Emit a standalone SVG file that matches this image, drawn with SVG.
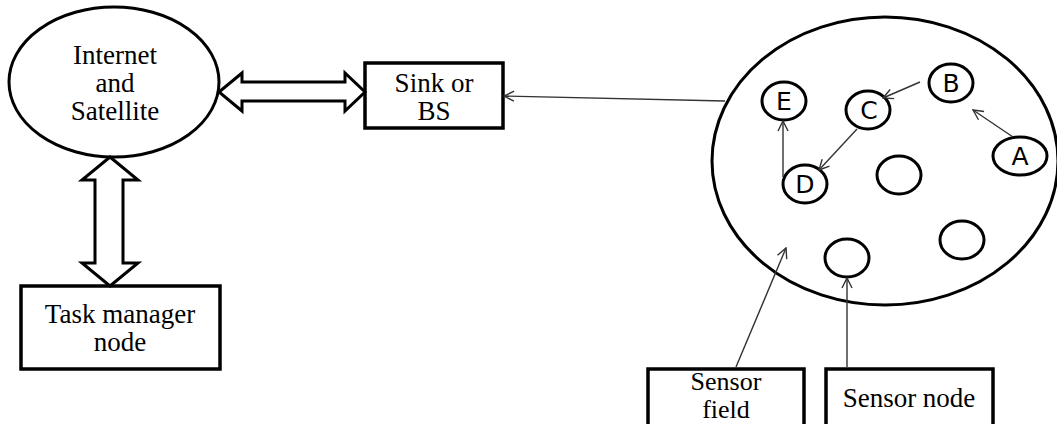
<svg xmlns="http://www.w3.org/2000/svg" width="1057" height="424" viewBox="0 0 1057 424">
<style>
.shape{fill:#fff;stroke:#000;stroke-width:3}
.box{fill:#fff;stroke:#000;stroke-width:3.5}
.serif{font-family:"Liberation Serif","Times New Roman",serif;font-size:27px;fill:#000;text-anchor:middle}
.small{font-size:26px}
.sans{font-family:"DejaVu Sans","Open Sans",sans-serif;font-size:25px;fill:#000;text-anchor:middle}
.thin{stroke:#333;stroke-width:1.4;fill:none;marker-end:url(#open)}
</style>
<defs>
<marker id="open" viewBox="0 0 12 12" refX="11" refY="6" markerWidth="12" markerHeight="12" markerUnits="userSpaceOnUse" orient="auto">
<path d="M1,1 L11,6 L1,11" fill="none" stroke="#333" stroke-width="1.4"/>
</marker>
</defs>
<rect width="1057" height="424" fill="#fff"/>
<g id="internet">
<ellipse class="shape" cx="114" cy="82" rx="105" ry="75"/>
<text class="serif" x="115" y="64">Internet</text>
<text class="serif" x="115" y="92">and</text>
<text class="serif" x="115" y="120">Satellite</text>
</g>
<g id="sink">
<rect class="box" x="365" y="63" width="138" height="65"/>
<text class="serif" x="434" y="92">Sink or</text>
<text class="serif" x="434" y="120">BS</text>
</g>
<g id="taskmanager">
<rect class="box" x="21" y="286" width="199" height="83"/>
<text class="serif" x="120" y="323">Task manager</text>
<text class="serif" x="120" y="351">node</text>
</g>
<g id="sensorfield">
<ellipse class="shape" cx="885" cy="161" rx="173" ry="144"/>
</g>
<g id="nodeE"><ellipse class="shape" cx="784" cy="101" rx="22" ry="19"/><text class="sans" x="784" y="110">E</text></g>
<g id="nodeC"><ellipse class="shape" cx="868" cy="110" rx="22" ry="19"/><text class="sans" x="869" y="119">C</text></g>
<g id="nodeB"><ellipse class="shape" cx="951" cy="83" rx="22" ry="19"/><text class="sans" x="951" y="92">B</text></g>
<g id="nodeA"><ellipse class="shape" cx="1020" cy="156" rx="27" ry="19"/><text class="sans" x="1020" y="165">A</text></g>
<g id="nodeD"><ellipse class="shape" cx="805" cy="184" rx="22" ry="19"/><text class="sans" x="805" y="193">D</text></g>
<g id="node1"><ellipse class="shape" cx="899" cy="175" rx="22" ry="19"/></g>
<g id="node2"><ellipse class="shape" cx="962" cy="240" rx="22" ry="19"/></g>
<g id="node3"><ellipse class="shape" cx="847" cy="258" rx="22" ry="19"/></g>
<g id="sensorfieldlabel">
<rect class="box" x="648" y="369" width="156" height="60"/>
<text class="serif small" x="726" y="390">Sensor</text>
<text class="serif small" x="726" y="418">field</text>
</g>
<g id="sensornodelabel">
<rect class="box" x="826" y="369" width="167" height="60"/>
<text class="serif" x="909" y="407">Sensor node</text>
</g>
<g id="connectors">
<polygon class="shape" points="219,92 242,73 242,82 345,82 345,73 365,92 345,111 345,101 242,101 242,111"/>
<polygon class="shape" points="110,157 138,180 123,180 123,263 138,263 110,286 82,263 95,263 95,180 82,180"/>
<line class="thin" x1="725" y1="101" x2="504" y2="96"/>
<line class="thin" x1="920" y1="82" x2="883" y2="98"/>
<line class="thin" x1="1013" y1="137" x2="973" y2="110"/>
<line class="thin" x1="857" y1="129" x2="819" y2="170"/>
<line class="thin" x1="783" y1="177" x2="783" y2="121"/>
<line class="thin" x1="736" y1="367" x2="786" y2="248"/>
<line class="thin" x1="847" y1="367" x2="847" y2="278"/>
</g>
</svg>
